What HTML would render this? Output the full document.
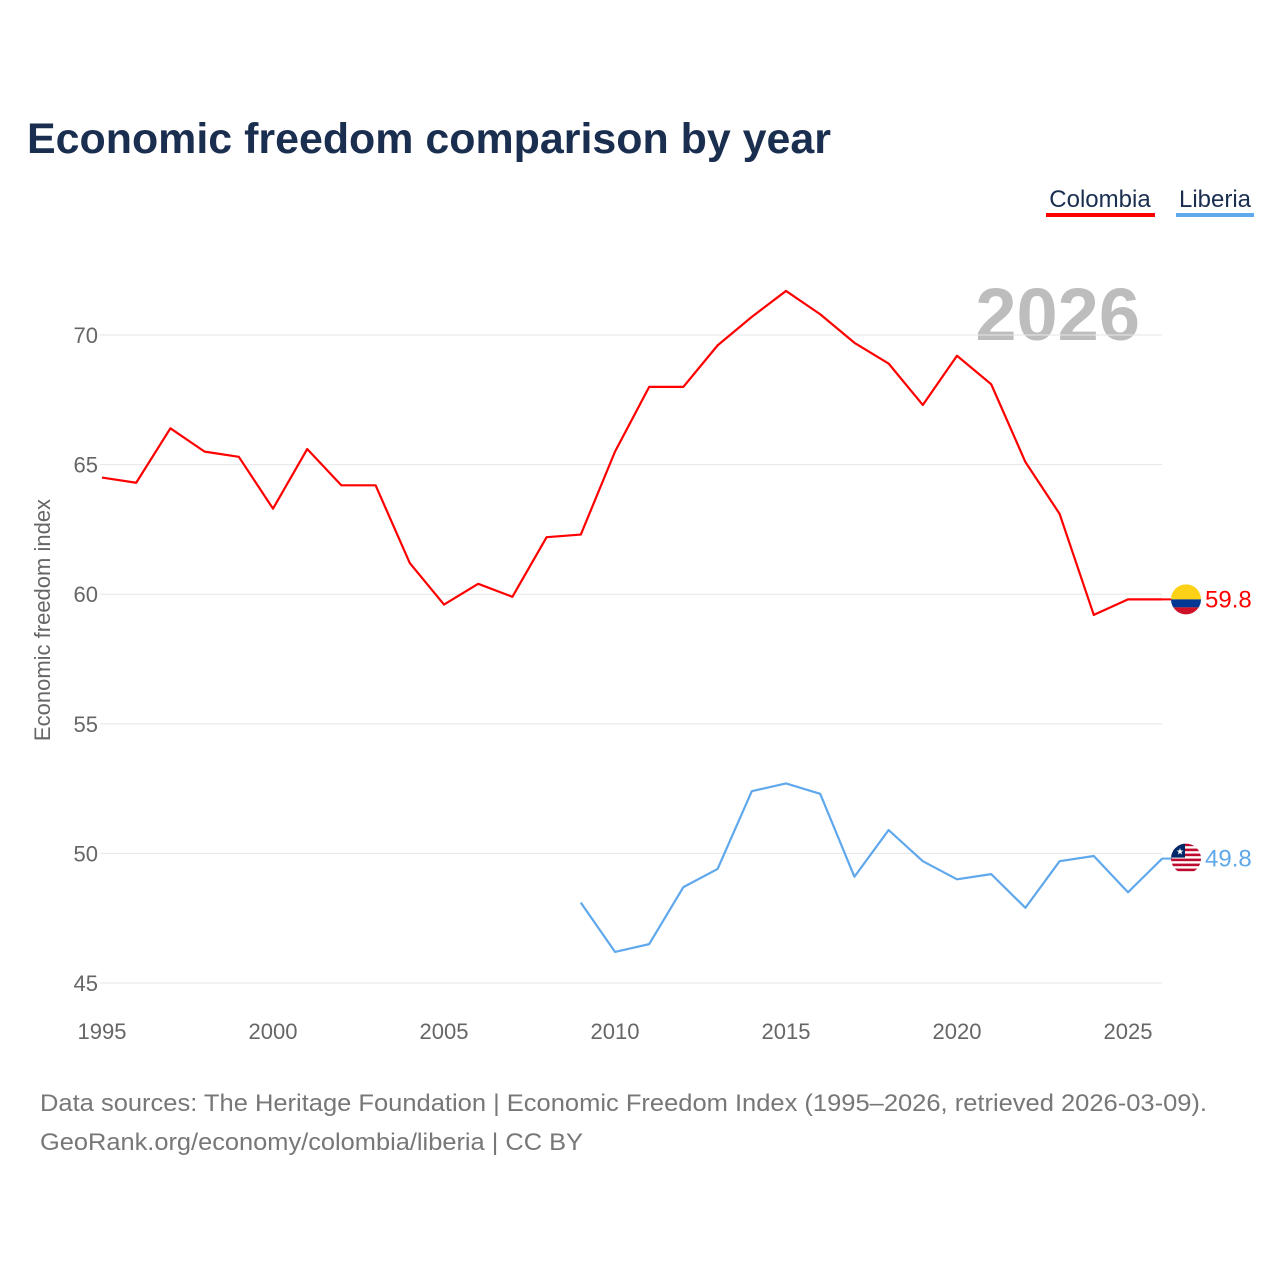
<!DOCTYPE html>
<html><head><meta charset="utf-8"><style>
body{margin:0;background:#fff;font-family:"Liberation Sans",sans-serif;}
</style></head><body>
<svg id="chart" width="1280" height="1280" viewBox="0 0 1280 1280" xmlns="http://www.w3.org/2000/svg">
<rect width="1280" height="1280" fill="#fff"/>
<text x="27" y="153" font-size="43" font-weight="bold" fill="#1a2e4f" textLength="804" lengthAdjust="spacingAndGlyphs">Economic freedom comparison by year</text>
<g>
<text x="1100" y="207" font-size="24" fill="#1a2e4f" text-anchor="middle">Colombia</text>
<rect x="1046" y="213" width="109" height="4" fill="#ff0000"/>
<text x="1215" y="207" font-size="24" fill="#1a2e4f" text-anchor="middle">Liberia</text>
<rect x="1176" y="213" width="78" height="4" fill="#5fa8ec"/>
</g>
<text x="1140" y="340" font-size="74" font-weight="bold" fill="#bdbdbd" text-anchor="end">2026</text>
<g id="grid"></g>
<g id="xaxis"></g>
<text transform="translate(50,620) rotate(-90)" font-size="22" fill="#666" text-anchor="middle">Economic freedom index</text>
<g id="series"></g>
<text x="40" y="1111" font-size="24" fill="#777" textLength="1167" lengthAdjust="spacingAndGlyphs">Data sources: The Heritage Foundation | Economic Freedom Index (1995–2026, retrieved 2026-03-09).</text>
<text x="40" y="1150" font-size="24" fill="#777" textLength="543" lengthAdjust="spacingAndGlyphs">GeoRank.org/economy/colombia/liberia | CC BY</text>
</svg>
<script>
const yTicks=[45,50,55,60,65,70];
const xTicks=[1995,2000,2005,2010,2015,2020,2025];
const colombiaYears=[1995,1996,1997,1998,1999,2000,2001,2002,2003,2004,2005,2006,2007,2008,2009,2010,2011,2012,2013,2014,2015,2016,2017,2018,2019,2020,2021,2022,2023,2024,2025,2026];
const colombiaValues=[64.5,64.3,66.4,65.5,65.3,63.3,65.6,64.2,64.2,61.2,59.6,60.4,59.9,62.2,62.3,65.5,68.0,68.0,69.6,70.7,71.7,70.8,69.7,68.9,67.3,69.2,68.1,65.1,63.1,59.2,59.8,59.8];
const liberiaYears=[2009,2010,2011,2012,2013,2014,2015,2016,2017,2018,2019,2020,2021,2022,2023,2024,2025,2026];
const liberiaValues=[48.1,46.2,46.5,48.7,49.4,52.4,52.7,52.3,49.1,50.9,49.7,49.0,49.2,47.9,49.7,49.9,48.5,49.8];
const NS="http://www.w3.org/2000/svg";
const X=y=>102+(y-1995)*34.2;
const Y=v=>335+(70-v)*25.92;
function mk(tag,attrs,parent){const e=document.createElementNS(NS,tag);for(const k in attrs)e.setAttribute(k,attrs[k]);parent.appendChild(e);return e;}
const grid=document.getElementById('grid');
yTicks.forEach(t=>{
 const l=mk('line',{x1:100,x2:1162,y1:Y(t),y2:Y(t),stroke:'#e6e6e6','stroke-width':1},grid);
 
 
 const tx=mk('text',{x:98,y:Y(t)+8,'font-size':22,fill:'#666','text-anchor':'end'},grid);
 tx.textContent=t;
 
 
});
const xa=document.getElementById('xaxis');
xTicks.forEach(t=>{
 const tx=mk('text',{x:X(t),y:1039,'font-size':22,fill:'#666','text-anchor':'middle'},xa);
 tx.textContent=t;
 
 
});
const s=document.getElementById('series');
function line(years,vals,color,name){
 const d=years.map((y,i)=>(i?'L':'M')+X(y)+','+Y(vals[i])).join(' ');
 const p=mk('path',{d:d,fill:'none',stroke:color,'stroke-width':2.2,'stroke-linejoin':'round'},s);
 
 
 const lv=vals[vals.length-1], ly=Y(lv);
 mk('line',{x1:1162,x2:1172,y1:ly,y2:ly,stroke:color,'stroke-width':2},s);
 const lab=mk('text',{x:1205,y:ly+8,'font-size':24,fill:color},s);
 lab.textContent=lv.toFixed(1);
 
 
 return ly;
}
const cy=line(colombiaYears,colombiaValues,'#ff0000','colombia');
const ly=line(liberiaYears,liberiaValues,'#5fa8ec','liberia');
const f1=mk('g',{},s);


const cp1=mk('clipPath',{id:'c1'},f1);mk('circle',{cx:1186,cy:cy,r:15},cp1);
mk('rect',{x:1171,y:cy-15,width:30,height:15,fill:'#fcd116','clip-path':'url(#c1)'},f1);
mk('rect',{x:1171,y:cy,width:30,height:8,fill:'#003893','clip-path':'url(#c1)'},f1);
mk('rect',{x:1171,y:cy+8,width:30,height:8,fill:'#ce1126','clip-path':'url(#c1)'},f1);
const f2=mk('g',{},s);


const cp=mk('clipPath',{id:'c2'},f2);mk('circle',{cx:1186,cy:ly,r:15},cp);
for(let i=0;i<6;i++)mk('rect',{x:1171,y:ly-15+i*5,width:30,height:2.6,fill:'#bf0a30','clip-path':'url(#c2)'},f2);
mk('rect',{x:1171,y:ly-15,width:14,height:14,fill:'#002868','clip-path':'url(#c2)'},f2);
mk('text',{x:1180,y:ly-4,'font-size':9,fill:'#fff','text-anchor':'middle'},f2).textContent='★';
</script>
</body></html>
